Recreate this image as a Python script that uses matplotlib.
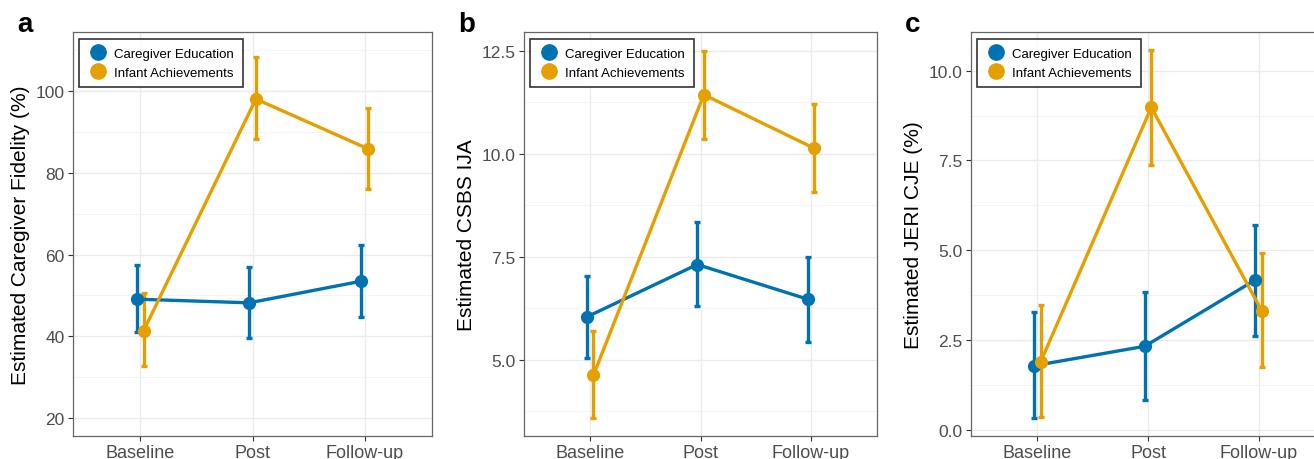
import numpy as np
import matplotlib
matplotlib.use("Agg")
import matplotlib.pyplot as plt
from matplotlib.lines import Line2D
from matplotlib.ticker import MultipleLocator, FuncFormatter

plt.rcParams['font.family'] = ['Liberation Sans', 'DejaVu Sans']

## Data
timepoints = ["Baseline", "Post", "Follow-up"]
groups = ["Caregiver Education", "Infant Achievements"]

# panel a: caregiver fidelity (%)
fid_edu = [49.1, 48.2, 53.5]
fid_edu_lo = [41.0, 39.5, 44.8]
fid_edu_hi = [57.5, 57.0, 62.4]
fid_inf = [41.4, 98.1, 85.9]
fid_inf_lo = [32.8, 88.3, 76.1]
fid_inf_hi = [50.5, 108.3, 95.9]

# panel b: CSBS IJA
ija_edu = [6.04, 7.31, 6.47]
ija_edu_lo = [5.03, 6.30, 5.44]
ija_edu_hi = [7.04, 8.33, 7.50]
ija_inf = [4.63, 11.43, 10.13]
ija_inf_lo = [3.58, 10.35, 9.06]
ija_inf_hi = [5.70, 12.50, 11.20]

# panel c: JERI CJE (%)
cje_edu = [1.78, 2.32, 4.17]
cje_edu_lo = [0.33, 0.83, 2.62]
cje_edu_hi = [3.27, 3.84, 5.70]
cje_inf = [1.89, 8.98, 3.30]
cje_inf_lo = [0.35, 7.38, 1.74]
cje_inf_hi = [3.47, 10.58, 4.91]

BLUE = "#0072B2"
ORANGE = "#E69F00"

panels = [
	dict(label="a", label_x=25, ylabel="Estimated Caregiver Fidelity (%)",
		 edu=(fid_edu, fid_edu_lo, fid_edu_hi), inf=(fid_inf, fid_inf_lo, fid_inf_hi),
		 ylim=(15.6, 114.5), major=20, minor=10, fmt="{:.0f}",
		 box=(73, 33, 432, 437)),
	dict(label="b", label_x=467, ylabel="Estimated CSBS IJA",
		 edu=(ija_edu, ija_edu_lo, ija_edu_hi), inf=(ija_inf, ija_inf_lo, ija_inf_hi),
		 ylim=(3.15, 12.95), major=2.5, minor=1.25, fmt="{:.1f}",
		 box=(524, 33, 877, 437)),
	dict(label="c", label_x=913, ylabel="Estimated JERI CJE (%)",
		 edu=(cje_edu, cje_edu_lo, cje_edu_hi), inf=(cje_inf, cje_inf_lo, cje_inf_hi),
		 ylim=(-0.18, 11.08), major=2.5, minor=1.25, fmt="{:.1f}",
		 box=(971, 33, 1325, 437)),
]

W, H = 1314, 460
fig = plt.figure(figsize=(W / 100, H / 100), dpi=100)

x = np.arange(1, len(timepoints) + 1)
dodge = 0.03

for p in panels:
	l, t, r, b = p["box"]
	ax = fig.add_axes([l / W, (H - b) / H, (r - l) / W, (b - t) / H])
	ax.set_facecolor("white")

	for (vals, lo, hi), col, dx in [(p["edu"], BLUE, -dodge), (p["inf"], ORANGE, dodge)]:
		vals = np.array(vals)
		yerr = [vals - np.array(lo), np.array(hi) - vals]
		ax.errorbar(x + dx, vals, yerr=yerr, fmt="none", ecolor=col,
					elinewidth=2.4, capsize=2.4, capthick=2.4, zorder=3)
		ax.plot(x + dx, vals, color=col, linewidth=2.4, marker="o",
				markersize=8.5, zorder=4)

	ax.set_xlim(0.4, 3.6)
	ax.set_ylim(*p["ylim"])
	ax.set_xticks(x)
	ax.set_xticklabels(timepoints)
	ax.yaxis.set_major_locator(MultipleLocator(p["major"]))
	ax.yaxis.set_minor_locator(MultipleLocator(p["minor"]))
	ax.yaxis.set_major_formatter(FuncFormatter(lambda v, pos, f=p["fmt"]: f.format(v)))
	ax.grid(True, which="major", color="#EBEBEB", linewidth=1.0, zorder=0)
	ax.grid(True, which="minor", axis="y", color="#F2F2F2", linewidth=0.6, zorder=0)
	ax.set_axisbelow(True)
	ax.tick_params(axis="both", which="major", length=3.5, width=0.8, color="#333333",
				   labelcolor="#4D4D4D", pad=2.5)
	ax.tick_params(axis="x", labelsize=13)
	ax.tick_params(axis="y", labelsize=12.5)
	ax.tick_params(axis="y", which="minor", length=0)
	for s in ax.spines.values():
		s.set_color("#666666")
		s.set_linewidth(0.9)
	ax.set_ylabel(p["ylabel"], fontsize=15, color="black", labelpad=4)

	handles = [Line2D([], [], linestyle="none", marker="o", markersize=11, color=BLUE),
			   Line2D([], [], linestyle="none", marker="o", markersize=11, color=ORANGE)]
	leg = ax.legend(handles, groups, loc="upper left", bbox_to_anchor=(0.018, 0.982),
					borderaxespad=0, fontsize=9.5, frameon=True, fancybox=False,
					handletextpad=0.5, labelspacing=0.5, borderpad=0.65,
					handlelength=1.5)
	leg.get_frame().set_edgecolor("black")
	leg.get_frame().set_linewidth(1.2)

	fig.text(p["label_x"] / W, (H - 25) / H, p["label"], fontsize=20, fontweight="bold",
			 ha="center", va="center")

fig.savefig("out.png", dpi=100)
